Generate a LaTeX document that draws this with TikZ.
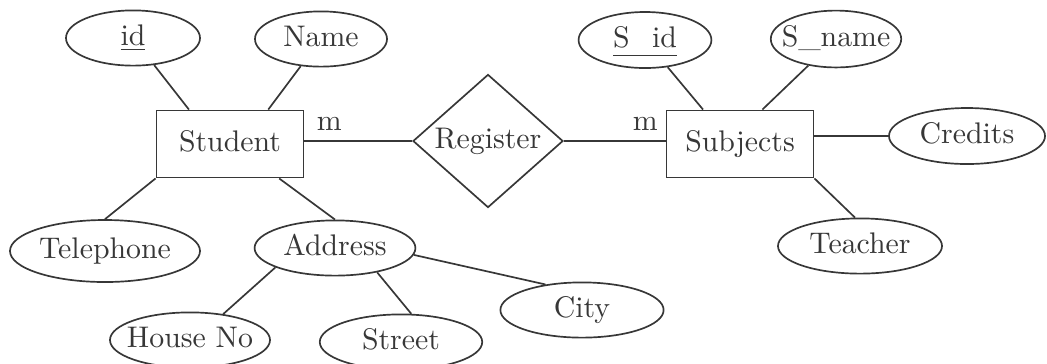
\documentclass[tikz,border=0pt]{standalone}
\usepackage{tikz}
\usetikzlibrary{shapes.geometric}
\definecolor{ink}{RGB}{55,55,55}

\begin{document}
\begin{tikzpicture}[x=0.0125cm, y=-0.0125cm, line width=0.6pt, color=ink,
    every node/.style={font=\fontsize{10.6}{12}\selectfont},
    attr/.style={ellipse, draw, inner xsep=-8pt, inner ysep=0pt, minimum height=0.69cm,
        text height=1.6ex, text depth=.4ex},
    entity/.style={rectangle, draw, inner sep=0pt, minimum width=1.84cm, minimum height=0.84cm,
        text height=1.6ex, text depth=.4ex},
    relation/.style={diamond, draw, inner sep=0pt, minimum width=1.875cm, minimum height=1.425cm}]
\useasboundingbox (0,0) rectangle (1047,363);

\node[entity] (student) at (230,144) {Student};
\node[entity] (subjects) at (740,144) {Subjects};
\node[relation] (register) at (488,141) {Register};

\node[attr, minimum width=1.675cm] (id) at (133,38) {\underline{id}};
\node[attr, minimum width=1.65cm] (name) at (321,39) {Name};
\node[attr, minimum width=2.375cm, minimum height=0.775cm] (telephone) at (105,251) {Telephone};
\node[attr, minimum width=2.01cm] (address) at (335,248) {Address};
\node[attr, minimum width=2.0cm] (housenum) at (190,340) {House No};
\node[attr, minimum width=2.03cm] (street) at (401,342) {Street};
\node[attr, minimum width=2.04cm] (city) at (582,310) {City};
\node[attr, minimum width=1.66cm, minimum height=0.7cm] (sid) at (645,40) {\underline{S\phantom{\_}id}};
\node[attr, minimum width=1.63cm, minimum height=0.71cm] (sname) at (836,39) {S\_name};
\node[attr, minimum width=1.95cm, minimum height=0.7cm] (credits) at (967,136) {Credits};
\node[attr, minimum width=2.05cm] (teacher) at (860,246) {Teacher};

\draw (id) -- (student.140);
\draw (name) -- (student.42);
\draw (student.south west) -- (telephone.north);
\draw (student.-35) -- (address.north);
\draw (address.198) -- (housenum.38);
\draw (address.-30) -- (street.70);
\draw (address.-5) -- (city.145);
\draw (register.west) -- node[pos=0.77, above] {m} (register.west -| student.east);
\draw (register.east) -- node[pos=0.8, above] {m} (register.east -| subjects.west);
\draw (sid) -- (subjects.137);
\draw (sname) -- (subjects.57);
\draw (credits.west) -- (credits.west -| subjects.east);
\draw (subjects.south east) -- (teacher.100);
\end{tikzpicture}
\end{document}
